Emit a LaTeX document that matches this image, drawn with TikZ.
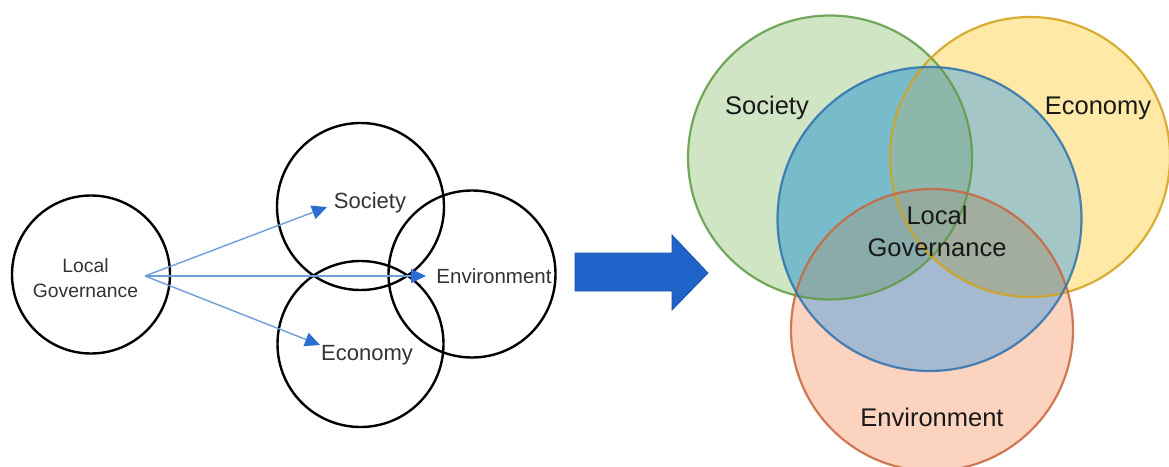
\documentclass[tikz,border=0pt]{standalone}
\usepackage{fontspec}
\setmainfont{Liberation Sans}
\usetikzlibrary{arrows.meta}

% colours of the two diagrams
\definecolor{linkblue}{HTML}{6F9FD8}
\definecolor{headblue}{HTML}{2A6FD0}
\definecolor{bigarrow}{HTML}{1F63C9}
\definecolor{bigedge}{HTML}{1B55A8}
\definecolor{socfill}{HTML}{CFE5C4}
\definecolor{ecofill}{HTML}{FEE9A6}
\definecolor{envfill}{HTML}{FBD3BF}
\definecolor{socecofill}{HTML}{CDDCA6}
\definecolor{socenvfill}{HTML}{D8D5B8}
\definecolor{ecoenvfill}{HTML}{F4D8A8}
\definecolor{govfill}{HTML}{7FB2CF}
\definecolor{gsocfill}{HTML}{78BCCB}
\definecolor{gecofill}{HTML}{A4C6C6}
\definecolor{genvfill}{HTML}{A5BAD0}
\definecolor{gsecofill}{HTML}{8DB7AB}
\definecolor{gsenvfill}{HTML}{8AABAA}
\definecolor{geenvfill}{HTML}{A2AD9E}
\definecolor{gallfill}{HTML}{93AB9F}
\definecolor{socline}{HTML}{5E9A45}
\definecolor{ecoline}{HTML}{D3A21A}
\definecolor{envline}{HTML}{C8663C}
\definecolor{govline}{HTML}{2F72AE}

\tikzset{
    ring/.style={circle, draw=black, line width=2.4pt, inner sep=0pt},
    leftlabel/.style={text=black!80, inner sep=0pt, anchor=base, align=center},
    rightlabel/.style={text=black!90, inner sep=0pt, anchor=base, align=center,
        font=\fontsize{25.5}{32}\selectfont},
    link/.style={draw=linkblue, line width=1.4pt,
        -{Triangle[length=15pt,width=14pt,color=headblue]}},
    venn/.style={line width=2.2pt, draw opacity=0.85}
}

% the four circles of the right diagram
\def\socc{(830,157.5) circle[radius=142pt]}
\def\ecoc{(1030,157) circle[radius=140pt]}
\def\govc{(929.5,219) circle[radius=152pt]}
\def\envc{(932,330) circle[radius=141pt]}

\begin{document}
\begin{tikzpicture}[x=1pt,y=-1pt]
    \useasboundingbox (0,0) rectangle (1169,466);
    \fill[white] (0,0) rectangle (1169,466);

    % Left diagram: the circles
    \node[ring, minimum size=158pt] (lgring) at (91,274.5) {};
    \node[ring, minimum size=167pt] (socring) at (360.5,206.5) {};
    \node[ring, minimum size=167pt] (envring) at (472,274) {};
    \node[ring, minimum size=166pt] (ecoring) at (360.5,344) {};

    % Left diagram: the labels
    \node[leftlabel, font=\fontsize{19.3}{25}\selectfont] (lgtext) at (85.5,297) {Local\\Governance};
    \node[leftlabel, font=\fontsize{22}{26}\selectfont] (soctext) at (370,208) {Society};
    \node[leftlabel, font=\fontsize{20.5}{26}\selectfont] (envtext) at (494,283.5) {Environment};
    \node[leftlabel, font=\fontsize{22}{26}\selectfont] (ecotext) at (367,360) {Economy};

    % Left diagram: the arrows
    \coordinate (hub) at (145,276);
    \coordinate (soctip) at (327,207);
    \coordinate (envtip) at (426,276);
    \coordinate (ecotip) at (320,345);
    \draw[link] (hub) -- (soctip);
    \draw[link] (hub) -- (envtip);
    \draw[link] (hub) -- (ecotip);

    % The big arrow in the middle
    \draw[fill=bigarrow, draw=bigedge, line width=0.8pt]
        (575,253) -- (672,253) -- (672,235) -- (708,273)
        -- (672,310) -- (672,291) -- (575,291) -- cycle;

    % Right diagram: plain fills
    \fill[socfill] \socc;
    \fill[ecofill] \ecoc;
    \fill[envfill] \envc;
    \begin{scope}
        \clip \ecoc;
        \fill[ecoenvfill] \envc;
    \end{scope}
    \begin{scope}
        \clip \socc;
        \fill[socecofill] \ecoc;
        \fill[socenvfill] \envc;
    \end{scope}

    % Right diagram: fills inside the governance circle
    \begin{scope}
        \clip \govc;
        \fill[govfill] \govc;
        \fill[gsocfill] \socc;
        \fill[gecofill] \ecoc;
        \fill[genvfill] \envc;
        \begin{scope}
            \clip \ecoc;
            \fill[geenvfill] \envc;
        \end{scope}
        \begin{scope}
            \clip \socc;
            \fill[gsecofill] \ecoc;
            \fill[gsenvfill] \envc;
            \clip \ecoc;
            \fill[gallfill] \envc;
        \end{scope}
    \end{scope}

    % Right diagram: the outlines
    \draw[venn, socline] \socc;
    \draw[venn, ecoline] \ecoc;
    \draw[venn, envline] \envc;
    \draw[venn, govline] \govc;

    % Right diagram: the labels
    \node[rightlabel] (socname) at (767,114) {Society};
    \node[rightlabel] (econame) at (1098,114) {Economy};
    \node[rightlabel] (govname) at (937,256) {Local\\Governance};
    \node[rightlabel] (envname) at (932,426) {Environment};
\end{tikzpicture}
\end{document}
